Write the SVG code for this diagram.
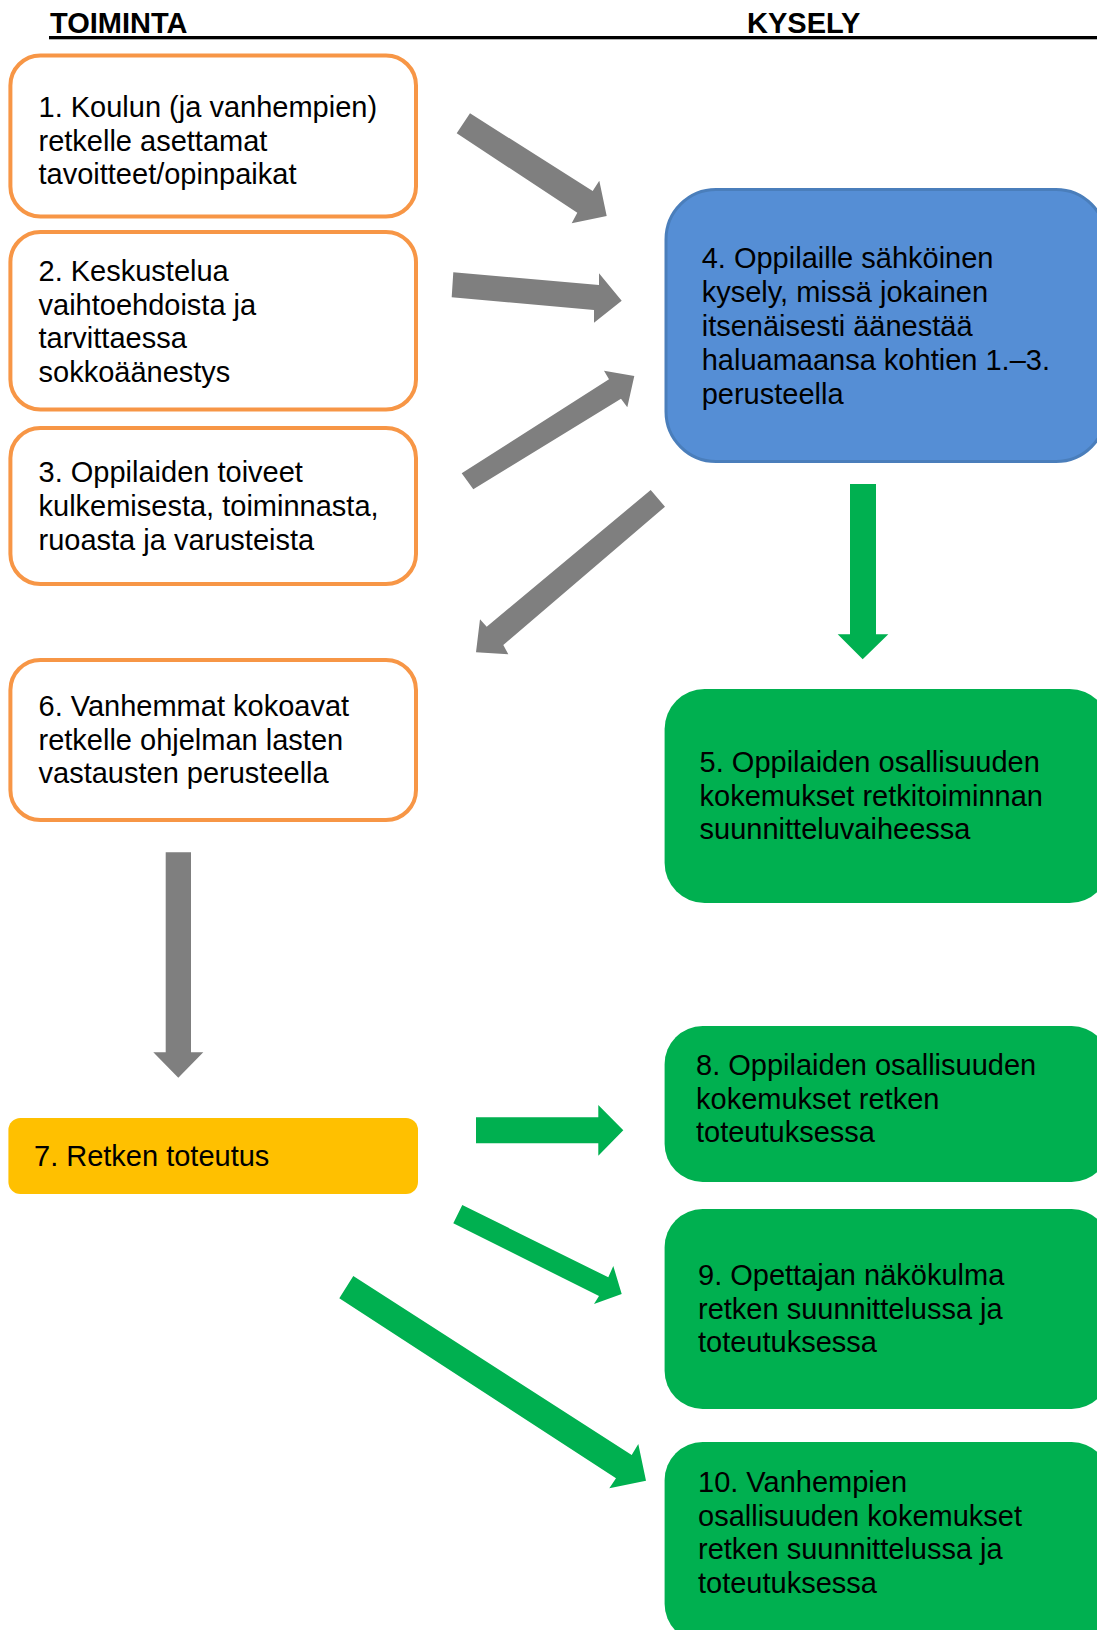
<svg xmlns="http://www.w3.org/2000/svg" width="1097" height="1630" viewBox="0 0 1097 1630">
  <style>
    text { font-family: "Liberation Sans", Arial, sans-serif; font-size: 29px; fill: #000; }
    .head { font-weight: bold; }
    .orange { fill: #ffffff; stroke: #F79646; stroke-width: 4; }
    .blue { fill: #558ED5; stroke: #4A7EBB; stroke-width: 3; }
    .green { fill: #00B050; }
    .yellow { fill: #FFC000; }
    .gray-arrow { fill: #7F7F7F; }
    .green-arrow { fill: #00B050; }
  </style>

  <rect width="1097" height="1630" fill="#ffffff"/>

  <!-- column headings -->
  <g id="header">
    <text class="head" x="50" y="33">TOIMINTA</text>
    <text class="head" x="747" y="33">KYSELY</text>
    <rect x="49" y="36" width="1048" height="3.3" fill="#000"/>
  </g>

  <!-- left column: activity steps -->
  <g id="node1">
    <rect class="orange" x="10.4" y="55.5" width="405.6" height="161" rx="30"/>
    <text x="38.5" y="117">1. Koulun (ja vanhempien)</text>
    <text x="38.5" y="150.5">retkelle asettamat</text>
    <text x="38.5" y="183.5">tavoitteet/opinpaikat</text>
  </g>
  <g id="node2">
    <rect class="orange" x="10.4" y="232" width="405.6" height="177.5" rx="30"/>
    <text x="38.5" y="281">2. Keskustelua</text>
    <text x="38.5" y="314.5">vaihtoehdoista ja</text>
    <text x="38.5" y="348">tarvittaessa</text>
    <text x="38.5" y="381.5">sokkoäänestys</text>
  </g>
  <g id="node3">
    <rect class="orange" x="10.4" y="428" width="405.6" height="156" rx="30"/>
    <text x="38.5" y="482">3. Oppilaiden toiveet</text>
    <text x="38.5" y="516">kulkemisesta, toiminnasta,</text>
    <text x="38.5" y="550">ruoasta ja varusteista</text>
  </g>
  <g id="node6">
    <rect class="orange" x="10.4" y="660" width="405.6" height="160" rx="30"/>
    <text x="38.5" y="716">6. Vanhemmat kokoavat</text>
    <text x="38.5" y="750">retkelle ohjelman lasten</text>
    <text x="38.5" y="783">vastausten perusteella</text>
  </g>
  <g id="node7">
    <rect class="yellow" x="8.4" y="1118" width="409.6" height="76" rx="12"/>
    <text x="34" y="1166">7. Retken toteutus</text>
  </g>

  <!-- right column: survey -->
  <g id="node4">
    <rect class="blue" x="666" y="189.5" width="440" height="272" rx="50"/>
    <text x="701.7" y="268">4. Oppilaille sähköinen</text>
    <text x="701.7" y="302">kysely, missä jokainen</text>
    <text x="701.7" y="336">itsenäisesti äänestää</text>
    <text x="701.7" y="370">haluamaansa kohtien 1.–3.</text>
    <text x="701.7" y="403.5">perusteella</text>
  </g>
  <g id="node5">
    <rect class="green" x="664.6" y="689" width="445" height="214" rx="40"/>
    <text x="699.6" y="772">5. Oppilaiden osallisuuden</text>
    <text x="699.6" y="806">kokemukset retkitoiminnan</text>
    <text x="699.6" y="839">suunnitteluvaiheessa</text>
  </g>
  <g id="node8">
    <rect class="green" x="664.6" y="1026" width="445" height="156" rx="38"/>
    <text x="696" y="1075">8. Oppilaiden osallisuuden</text>
    <text x="696" y="1108.5">kokemukset retken</text>
    <text x="696" y="1142">toteutuksessa</text>
  </g>
  <g id="node9">
    <rect class="green" x="664.6" y="1209" width="445" height="200" rx="38"/>
    <text x="698" y="1285">9. Opettajan näkökulma</text>
    <text x="698" y="1318.5">retken suunnittelussa ja</text>
    <text x="698" y="1352">toteutuksessa</text>
  </g>
  <g id="node10">
    <rect class="green" x="664.6" y="1442" width="445" height="200" rx="38"/>
    <text x="698" y="1492">10. Vanhempien</text>
    <text x="698" y="1525.5">osallisuuden kokemukset</text>
    <text x="698" y="1559">retken suunnittelussa ja</text>
    <text x="698" y="1593">toteutuksessa</text>
  </g>

  <!-- block arrows -->
  <g id="connectors">
    <polygon class="gray-arrow" points="470,113.3 592.7,191 599.3,180.7 606.7,216 571.7,223.3 577.3,212.7 456.7,133.3"/>
    <polygon class="gray-arrow" points="453.3,272.3 599,285 599,273.3 621.7,300.7 594,322.7 594,310 451.7,297.3"/>
    <polygon class="gray-arrow" points="461.7,473.3 609,379.3 604,370.7 634.3,376 627.3,407.3 621,398.7 473.3,489.3"/>
    <polygon class="gray-arrow" points="650.7,490 665,506.7 503.3,645 508.3,654.3 476,652.3 480,619.3 486.7,626.7"/>
    <polygon class="green-arrow" points="850,484 876,484 876,634.3 888.3,634.3 862.7,659.3 837.7,634.3 850,634.3"/>
    <polygon class="gray-arrow" points="165.7,852.3 191,852.3 191,1052.3 203.3,1052.3 178.3,1077.7 153.3,1052.3 165.7,1052.3"/>
    <polygon class="green-arrow" points="476,1117.3 598.3,1117.3 598.3,1105 623.3,1130.3 598.3,1155.7 598.3,1143.3 476,1143.3"/>
    <polygon class="green-arrow" points="462.3,1205 608.3,1277.3 613.3,1266 621.7,1294 594,1304 599,1296 453.3,1223.3"/>
    <polygon class="green-arrow" points="353.3,1276 631.7,1455 638.3,1444 646,1480.7 609.3,1488.3 616,1478.3 339.3,1298.3"/>
  </g>
</svg>
